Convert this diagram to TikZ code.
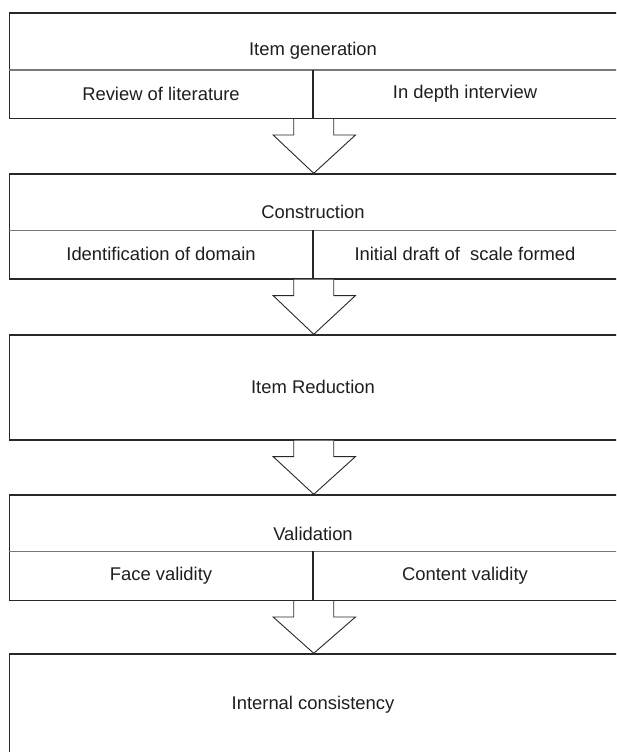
\documentclass[tikz,border=0pt]{standalone}
\usepackage{fontspec}
\setmainfont{Liberation Sans}
\begin{document}
\begin{tikzpicture}[x=1pt,y=-1pt,
  cell/.style={draw={rgb,255:red,40;green,40;blue,40}, line width=1.3pt, rectangle, inner sep=0pt, anchor=north west},
  divline/.style={draw={rgb,255:red,120;green,120;blue,120}, line width=1.2pt},
  midline/.style={draw={rgb,255:red,40;green,40;blue,40}, line width=1.3pt},
  txt/.style={font=\fontsize{18.4}{20}\selectfont, text={rgb,255:red,30;green,30;blue,30}, inner sep=0pt},
  bigarrow/.style={draw={rgb,255:red,40;green,40;blue,40}, line width=0.9pt, fill=white, line join=miter}
]
\useasboundingbox (0,0) rectangle (616,752);
\clip (0,0) rectangle (616,752);
% Box 1
\node[cell, minimum width=608.8pt, minimum height=105.4pt] (b1) at (8.7,12.3) {};
\coordinate (b1d) at (8.7,70);
\coordinate (b1m) at (313,70);
\draw[divline] (b1d) -- ++(608.8,0);
\draw[midline] (b1m) -- (b1m |- b1.south);
\node[txt] (t1) at (313,51) {Item generation};
\node[txt] (t1a) at (161,94) {Review of literature};
\node[txt] (t1b) at (465,94) {In depth interview};
% Box 2
\node[cell, minimum width=608.8pt, minimum height=105pt] (b2) at (8.7,173.3) {};
\coordinate (b2d) at (8.7,230.3);
\coordinate (b2m) at (313,230.3);
\draw[divline] (b2d) -- ++(608.8,0);
\draw[midline] (b2m) -- (b2m |- b2.south);
\node[txt] (t2) at (313,212) {Construction};
\node[txt] (t2a) at (161,254.3) {Identification of domain};
\node[txt] (t2b) at (465,254.3) {Initial draft of\ \ scale formed};
% Box 3
\node[cell, minimum width=608.8pt, minimum height=105pt] (b3) at (8.7,334.3) {};
\node[txt] (t3) at (313,386.8) {Item Reduction};
% Box 4
\node[cell, minimum width=608.8pt, minimum height=105.4pt] (b4) at (8.7,494.3) {};
\coordinate (b4d) at (8.7,551.3);
\coordinate (b4m) at (313,551.3);
\draw[divline] (b4d) -- ++(608.8,0);
\draw[midline] (b4m) -- (b4m |- b4.south);
\node[txt] (t4) at (313,534) {Validation};
\node[txt] (t4a) at (161,575.5) {Face validity};
\node[txt] (t4b) at (465,575.5) {Content validity};
% Box 5
\node[cell, minimum width=608.8pt, minimum height=110pt] (b5) at (8.7,653.3) {};
\node[txt] (t5) at (313,705) {Internal consistency};
% Arrows
\foreach \a/\b in {b1/b2,b2/b3,b3/b4,b4/b5}{
  \draw[bigarrow] ([xshift=-20pt]\a.south) -- ++(0,16) -- ++(-20.6,0)
     -- (\b.north) -- ([xshift=41.7pt,yshift=-16pt]\a.south) -- ++(-21.7,0) -- ++(0,-16);
}
\end{tikzpicture}
\end{document}
